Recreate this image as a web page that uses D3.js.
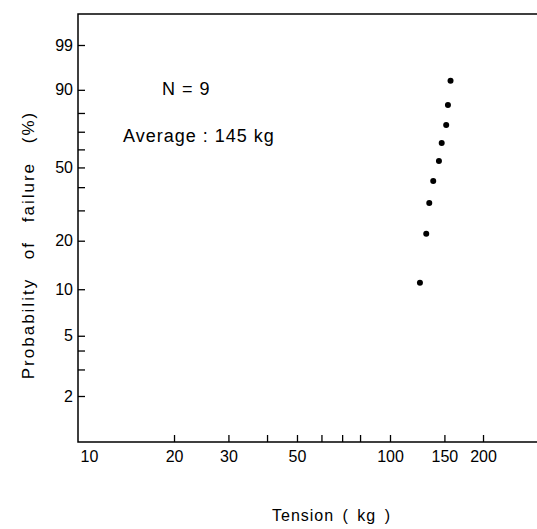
<!DOCTYPE html>
<html><head><meta charset="utf-8">
<script src="https://cdn.jsdelivr.net/npm/d3@7"></script>
<style>
body{margin:0;background:#fff}
svg{display:block}
text{font-family:"Liberation Sans",Arial,Helvetica,sans-serif;fill:#000}
</style>
</head><body>
<svg id="c" width="537" height="529"></svg>
<script>
// ---- data ----
const tension = [125, 131, 134, 138, 144, 147, 152, 154, 157];      // kg
const failurePct = [11, 22, 33, 43, 53.5, 63.6, 73.7, 83.8, 92.9];  // %
const xMajorTicks = [10, 20, 30, 50, 100, 150, 200];
const xMinorTicks = [40, 60, 70, 80];
const yMajorTicks = [2, 5, 10, 20, 50, 90, 99];
const yMinorTicks = [3, 4, 30, 40, 60, 70, 80];
const sampleSize = 9;
const averageKg = 145;

// ---- layout ----
const frame = {left: 78, right: 537, top: 14, bottom: 442};
const svg = d3.select("#c");

// Weibull probability transform
const weib = p => Math.log(-Math.log(1 - p / 100));

const x = d3.scaleLog().domain([10, 100]).range([81, 390]);
const y = d3.scaleLinear().domain([weib(2), weib(99)]).range([396, 45]);

// frame (left, top, bottom)
svg.append("path")
  .attr("d", `M${frame.right},${frame.top}H${frame.left}V${frame.bottom}H${frame.right}`)
  .attr("fill", "none").attr("stroke", "#000").attr("stroke-width", 1.5);

// y axis ticks (inward)
const yAxisG = svg.append("g").attr("transform", `translate(${frame.left},0)`);
yAxisG.call(d3.axisLeft(y).tickValues(yMajorTicks.map(weib))
  .tickSizeInner(-7).tickSizeOuter(0).tickPadding(5)
  .tickFormat((d, i) => yMajorTicks[i]));
svg.append("g").attr("transform", `translate(${frame.left},0)`)
  .call(d3.axisLeft(y).tickValues(yMinorTicks.map(weib))
  .tickSizeInner(-7).tickSizeOuter(0).tickFormat(""));

// x axis ticks (inward)
const xAxisG = svg.append("g").attr("transform", `translate(0,${frame.bottom})`);
xAxisG.call(d3.axisBottom(x).tickValues(xMajorTicks)
  .tickSizeInner(-7).tickSizeOuter(0).tickPadding(9)
  .tickFormat(d3.format("d")));
svg.append("g").attr("transform", `translate(0,${frame.bottom})`)
  .call(d3.axisBottom(x).tickValues(xMinorTicks)
  .tickSizeInner(-7).tickSizeOuter(0).tickFormat(""));

svg.selectAll(".domain").remove();
svg.selectAll(".tick line").attr("stroke", "#000").attr("stroke-width", 1.3);
svg.selectAll(".tick text").attr("font-size", 16).attr("fill", "#000")
  .style("font-family", '"Liberation Sans",Arial,sans-serif');
// "10" label shifted right of the corner
xAxisG.selectAll(".tick").filter(d => d === 10).select("line").remove();
xAxisG.selectAll(".tick").filter(d => d === 10).select("text").attr("dx", 8);

// points
svg.append("g").selectAll("circle")
  .data(tension.map((t, i) => ({t, p: failurePct[i]})))
  .join("circle")
  .attr("cx", d => x(d.t))
  .attr("cy", d => y(weib(d.p)))
  .attr("r", 3)
  .attr("fill", "#000");

// annotations
svg.append("text").attr("x", 162).attr("y", 95)
  .attr("font-size", 18).style("letter-spacing", "1px")
  .text(`N = ${sampleSize}`);
svg.append("text").attr("x", 123).attr("y", 142)
  .attr("font-size", 18).style("letter-spacing", "1px")
  .text(`Average : ${averageKg} kg`);

// axis titles
svg.append("text")
  .attr("transform", "translate(34,245) rotate(-90)")
  .attr("text-anchor", "middle").attr("font-size", 17)
  .style("letter-spacing", "2px").style("word-spacing", "12px")
  .text("Probability of failure (%)");
svg.append("text")
  .attr("x", 272).attr("y", 521)
  .attr("font-size", 16).style("letter-spacing", "1px").style("word-spacing", "3px")
  .text("Tension ( kg )");
</script>
</body></html>
